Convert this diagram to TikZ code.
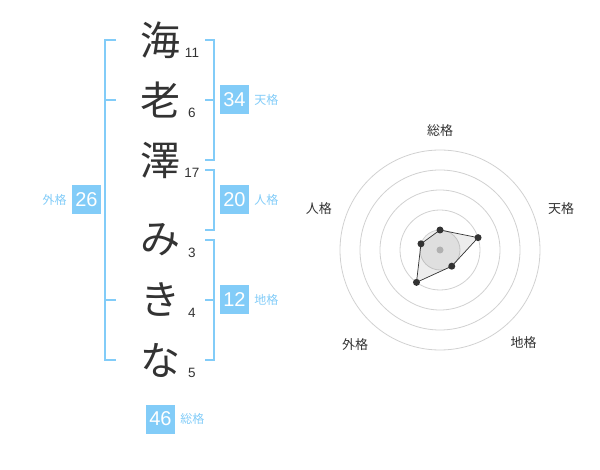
\documentclass[tikz,border=0pt]{standalone}
\usepackage{fontspec}
\setmainfont{Liberation Sans}
\newfontfamily\cjk{Noto Sans CJK JP}
\usetikzlibrary{positioning}
\definecolor{kakublue}{HTML}{82CCF8}
\definecolor{inkgray}{HTML}{333333}
\tikzset{
  namechar/.style={font=\cjk\fontsize{40}{40}\selectfont, text=inkgray, inner sep=0pt},
  strokenum/.style={font=\fontsize{13.5}{13.5}\selectfont, text=inkgray, inner sep=0pt},
  kakubox/.style={fill=kakublue, text=white, minimum width=29pt, minimum height=29pt, inner sep=0pt, font=\fontsize{20}{20}\selectfont},
  kakulabel/.style={font=\cjk\fontsize{12}{12}\selectfont, text=kakublue, inner sep=0pt},
  bracket/.style={draw=kakublue, line width=2pt},
  ring/.style={draw=black!18, line width=0.8pt},
  axislabel/.style={font=\cjk\fontsize{13}{13}\selectfont, text=inkgray, inner sep=0pt},
  datadot/.style={circle, fill=inkgray, inner sep=0pt, minimum size=7pt},
}

\begin{document}
\begin{tikzpicture}[x=1pt, y=-1pt]
  \useasboundingbox (0,0) rectangle (600,470);
  % name
  \node[namechar] (c1) at (160,40) {海};
  \node[namechar] (c2) at (160,100) {老};
  \node[namechar] (c3) at (160,160) {澤};
  \node[namechar] (c4) at (160,240) {み};
  \node[namechar] (c5) at (160,300) {き};
  \node[namechar] (c6) at (160,360) {な};
  % stroke counts
  \node[strokenum] (n1) at (192,53) {11};
  \node[strokenum] (n2) at (192,113) {6};
  \node[strokenum] (n3) at (192,173) {17};
  \node[strokenum] (n4) at (192,253) {3};
  \node[strokenum] (n5) at (192,313) {4};
  \node[strokenum] (n6) at (192,373) {5};
  % brackets
  \draw[bracket] (116,40) -- (105,40) -- (105,360) -- (116,360);
  \draw[bracket] (105,100) -- (116,100);
  \draw[bracket] (105,300) -- (116,300);
  \draw[bracket] (205,40) -- (214,40) -- (214,160) -- (205,160);
  \draw[bracket] (205,100) -- (214,100);
  \draw[bracket] (205,170) -- (214,170) -- (214,230) -- (205,230);
  \draw[bracket] (205,240) -- (214,240) -- (214,360) -- (205,360);
  \draw[bracket] (205,300) -- (214,300);
  % kaku boxes
  \node[kakubox] (ten) at (234.5,100) {34};
  \node[kakulabel, right=5pt of ten] (tenlbl) {天格};
  \node[kakubox] (jin) at (234.5,200) {20};
  \node[kakulabel, right=5pt of jin] (jinlbl) {人格};
  \node[kakubox] (chi) at (234.5,300) {12};
  \node[kakulabel, right=5pt of chi] (chilbl) {地格};
  \node[kakubox] (gai) at (86.5,200) {26};
  \node[kakulabel, left=5pt of gai] (gailbl) {外格};
  \node[kakubox] (sou) at (160.5,419) {46};
  \node[kakulabel, right=5pt of sou] (soulbl) {総格};
  % radar
  \begin{scope}[shift={(440,250)}]
    \fill[black!6] (0,0) circle (20pt);
    \draw[ring] (0,0) circle (20pt);
    \draw[ring] (0,0) circle (40pt);
    \draw[ring] (0,0) circle (60pt);
    \draw[ring] (0,0) circle (80pt);
    \draw[ring] (0,0) circle (100pt);
    \fill[black!25] (0,0) circle (3.5pt);
    \coordinate (psou) at (-90:20);
    \coordinate (pten) at (-18:40);
    \coordinate (pchi) at (54:20);
    \coordinate (pgai) at (126:40);
    \coordinate (pjin) at (198:20);
    \filldraw[fill=black, fill opacity=0.07, draw=inkgray, line width=0.7pt]
      (psou) -- (pten) -- (pchi) -- (pgai) -- (pjin) -- cycle;
    \node[datadot] (dsou) at (psou) {};
    \node[datadot] (dten) at (pten) {};
    \node[datadot] (dchi) at (pchi) {};
    \node[datadot] (dgai) at (pgai) {};
    \node[datadot] (djin) at (pjin) {};
    \node[axislabel] (asou) at (-90:119) {総格};
    \node[axislabel] (aten) at (-19:128) {天格};
    \node[axislabel] (achi) at (48:125) {地格};
    \node[axislabel] (agai) at (132:127) {外格};
    \node[axislabel] (ajin) at (199:128) {人格};
  \end{scope}
\end{tikzpicture}
\end{document}
